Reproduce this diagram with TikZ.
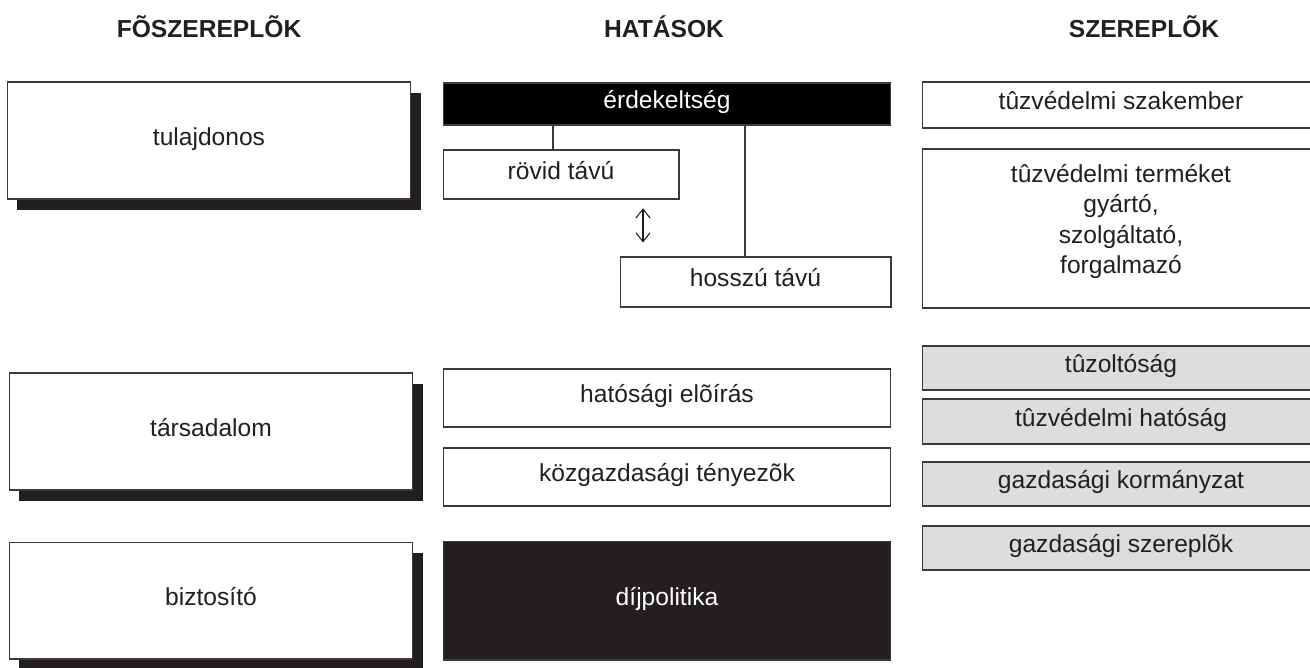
\documentclass[tikz,border=0pt]{standalone}
\usepackage{fontspec}
\setmainfont{Liberation Sans}
\usetikzlibrary{shadows,arrows.meta}
\definecolor{ink}{HTML}{231F20}
\definecolor{edge}{HTML}{3A3A3A}
\definecolor{panel}{HTML}{DCDDDF}

\begin{document}
\begin{tikzpicture}[x = 0.02cm, y = -0.02cm, line width = 0.6pt,
                      font = \fontsize{14}{17.2}\selectfont,
                      head/.style = {font = \fontsize{14}{17.2}\selectfont\bfseries, text = ink, anchor = base},
                      plain/.style = {draw = edge, fill = white, text = ink, inner sep = 0pt},
                      box/.style = {plain, text height = 0.72em, text depth = 0.2em},
                      actor/.style = {box, minimum width = 8.08cm, minimum height = 2.34cm,
                                      general shadow = {fill = ink, shadow xshift = 0.2cm, shadow yshift = -0.22cm}},
                      dark/.style = {box, fill = ink, text = white},
                      grey/.style = {box, fill = panel, minimum width = 7.96cm, minimum height = 0.88cm}]
    \clip (0, 0) rectangle (1310, 667);

    \node [head] (h1) at (209, 37){FÕSZEREPLÕK};
    \node [head] (h2) at (664, 37){HATÁSOK};
    \node [head] (h3) at (1144, 37){SZEREPLÕK};

    \node [actor] (owner) at (209, 140.5){tulajdonos};
    \node [actor] (society) at (211, 431.5){társadalom};
    \node [actor] (insurer) at (211, 600.5){biztosító};

    \node [dark, fill = black, minimum width = 8.96cm, minimum height = 0.84cm] (interest) at (667, 104){érdekeltség};
    \node [box, minimum width = 4.72cm, minimum height = 0.98cm] (short) at (561, 174.5){rövid távú};
    \node [box, minimum width = 5.42cm, minimum height = 1cm] (long) at (755.5, 282){hosszú távú};
    \node [box, minimum width = 8.96cm, minimum height = 1.16cm] (regs) at (667, 398){hatósági elõírás};
    \node [box, minimum width = 8.96cm, minimum height = 1.16cm] (econ) at (667, 477){közgazdasági tényezõk};
    \node [dark, minimum width = 8.96cm, minimum height = 2.38cm] (fee) at (667, 600.5){díjpolitika};

    \node [box, minimum width = 7.96cm, minimum height = 0.92cm] (expert) at (1121, 105){tûzvédelmi szakember};
    \node [plain, align = center, minimum width = 7.96cm, minimum height = 3.18cm] (maker) at (1121, 228.5)
        {tûzvédelmi terméket\\gyártó,\\szolgáltató,\\forgalmazó\rule[-11pt]{0pt}{11pt}};
    \node [grey] (brigade) at (1121, 368){tûzoltóság};
    \node [grey, minimum height = 0.9cm] (authority) at (1121, 421.5){tûzvédelmi hatóság};
    \node [grey] (govt) at (1121, 484){gazdasági kormányzat};
    \node [grey] (firms) at (1121, 548){gazdasági szereplõk};

    \coordinate (k1) at (553, 0);
    \coordinate (k2) at (745, 0);
    \coordinate (k3) at (643, 0);
    \draw [edge] (interest.south -| k1) -- (short.north -| k1);
    \draw [edge] (interest.south -| k2) -- (long.north -| k2);
    \draw [ink, {Straight Barb[length = 5pt, width = 8pt]}-{Straight Barb[length = 5pt, width = 8pt]},
           shorten <= 5pt, shorten >= 8pt] (short.south -| k3) -- (long.north -| k3);
    \end{tikzpicture}
\end{document}
